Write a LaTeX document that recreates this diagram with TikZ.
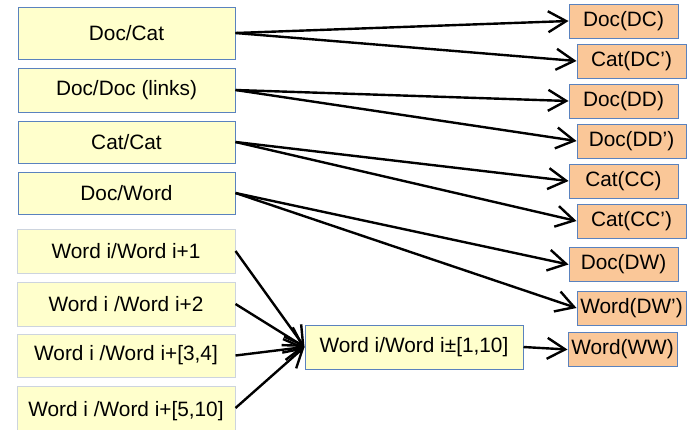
\documentclass[tikz,border=0pt]{standalone}
\usepackage{fontspec}
\setmainfont{Liberation Sans}
\usetikzlibrary{arrows.meta}
\definecolor{paleyellow}{RGB}{255,255,204}
\definecolor{peach}{RGB}{250,199,152}
\definecolor{edgeblue}{RGB}{90,130,190}
\definecolor{edgepale}{RGB}{205,212,222}
\newcommand{\apos}{\symbol{39}}
\tikzset{
  x=1pt, y=-1pt,
  every node/.style={font=\fontsize{20.8}{24}\selectfont, inner sep=0pt},
  srcbox/.style={draw=edgeblue, line width=1pt, fill=paleyellow, minimum width=217pt},
  wordbox/.style={draw=edgepale, line width=1pt, fill=paleyellow, minimum width=218pt, minimum height=44pt},
  outbox/.style={draw=edgeblue, line width=1pt, fill=peach, minimum width=109pt, minimum height=34pt},
  link/.style={line width=2.4pt, -{Straight Barb[length=18pt,width=21pt,line width=2.4pt]}}
}
\begin{document}
\begin{tikzpicture}
\useasboundingbox (0,0) rectangle (687,429);

% pair types on the left
\node[srcbox, minimum height=52pt] (dcat)  at (126.5,33)  {Doc/Cat};
\node[srcbox, minimum height=44pt] (ddoc)  at (126.5,90)  {Doc/Doc (links)};
\node[srcbox, minimum height=42pt] (ccat)  at (126.5,142) {Cat/Cat};
\node[srcbox, minimum height=42pt] (dword) at (126.5,193) {Doc/Word};

% word co-occurrence windows
\node[wordbox] (w1)  at (126,251)   {Word i/Word i+1};
\node[wordbox] (w2)  at (126,304)   {Word i /Word i+2};
\node[wordbox, minimum height=43pt] (w34) at (126,355.5) {Word i /Word i+[3,4]};
\node[wordbox, minimum height=50pt] (w510) at (126,411) {Word i /Word i+[5,10]};

% merged window
\node[wordbox, draw=edgeblue] (wmid) at (414,347) {Word i/Word i\textpm[1,10]};

% outputs
\node[outbox] (oDC)  at (623.5,21)  {Doc(DC)};
\node[outbox] (oDCp) at (631.5,61)  {Cat(DC\apos)};
\node[outbox] (oDD)  at (623.5,101) {Doc(DD)};
\node[outbox] (oDDp) at (631.5,141) {Doc(DD\apos)};
\node[outbox] (oCC)  at (623.5,181) {Cat(CC)};
\node[outbox] (oCCp) at (631.5,221) {Cat(CC\apos)};
\node[outbox] (oDW)  at (623.5,264.5) {Doc(DW)};
\node[outbox] (oDWp) at (631.5,308) {Word(DW\apos)};
\node[outbox] (oWW)  at (622.5,349.5) {Word(WW)};

% connectors
\draw[link] (dcat.east)  -- (oDC.west);
\draw[link] (dcat.east)  -- (oDCp.west);
\draw[link] (ddoc.east)  -- (oDD.west);
\draw[link] (ddoc.east)  -- (oDDp.west);
\draw[link] (ccat.east)  -- (oCC.west);
\draw[link] (ccat.east)  -- (oCCp.west);
\draw[link] (dword.east) -- (oDW.west);
\draw[link] (dword.east) -- (oDWp.west);

\draw[link] (w1.east)   -- (wmid.west);
\draw[link] (w2.east)   -- (wmid.west);
\draw[link] (w34.east)  -- (wmid.west);
\draw[link] (w510.east |- 0,408) -- (wmid.west);

\draw[link] (wmid.east) -- (oWW.west);
\end{tikzpicture}
\end{document}
